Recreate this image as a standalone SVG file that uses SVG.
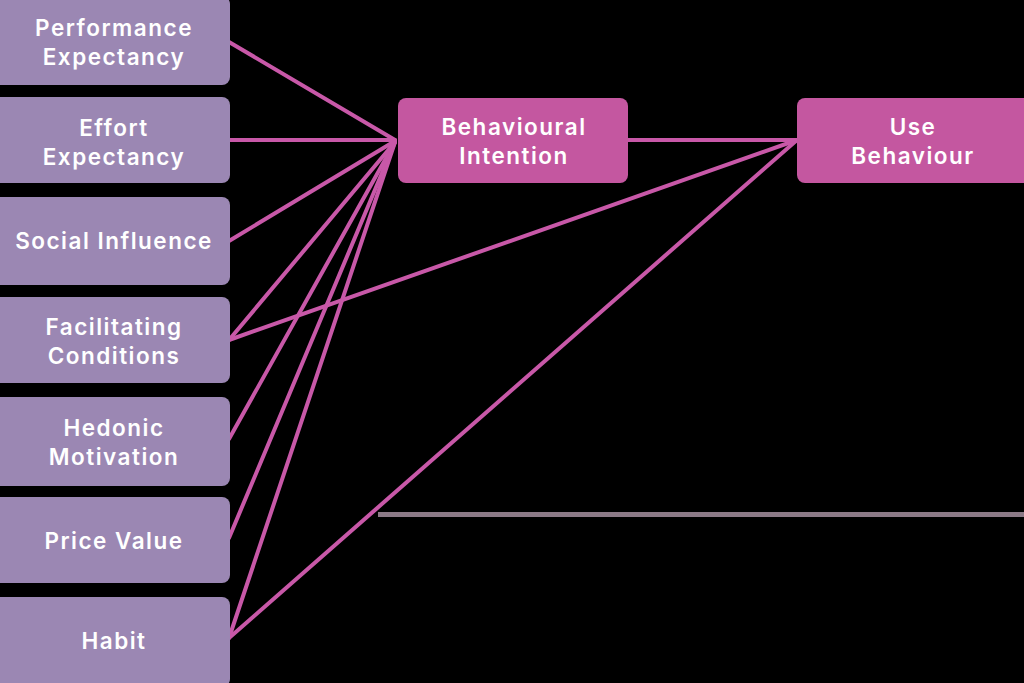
<svg xmlns="http://www.w3.org/2000/svg" width="1024" height="683" viewBox="0 0 1024 683">
<style>
.bg{fill:#000}
.lbox{fill:#9b87b3}
.mbox{fill:#c457a0}
.t{font-family:Inter,"Open Sans","DejaVu Sans",sans-serif;font-weight:600;font-size:22.5px;letter-spacing:1.5px;fill:#ffffff;text-anchor:middle}
.c{stroke:#c858a8;stroke-width:4;fill:none;stroke-linecap:round}
.g{stroke:#8c7a87;stroke-width:5;fill:none}
</style>
<rect class="bg" x="0" y="0" width="1024" height="683"/>
<line class="g" x1="378" y1="514.5" x2="1024" y2="514.5"/>
<g id="connectors">
<line class="c" x1="229" y1="42" x2="395" y2="140"/>
<line class="c" x1="229" y1="140" x2="395" y2="140"/>
<line class="c" x1="229" y1="241" x2="395" y2="141"/>
<line class="c" x1="229" y1="340" x2="395" y2="142"/>
<line class="c" x1="229" y1="340" x2="797" y2="140"/>
<line class="c" x1="229" y1="439" x2="395" y2="142"/>
<line class="c" x1="229" y1="538" x2="395" y2="142"/>
<line class="c" x1="229" y1="638" x2="395" y2="142"/>
<line class="c" x1="229" y1="638" x2="797" y2="140"/>
<line class="c" x1="628" y1="140" x2="797" y2="140"/>
</g>
<g id="performance-expectancy">
<rect class="lbox" x="-8" y="-4" width="238" height="89" rx="8"/>
<text class="t" x="114" y="36">Performance</text>
<text class="t" x="114" y="65">Expectancy</text>
</g>
<g id="effort-expectancy">
<rect class="lbox" x="-8" y="97" width="238" height="86" rx="8"/>
<text class="t" x="114" y="136">Effort</text>
<text class="t" x="114" y="165">Expectancy</text>
</g>
<g id="social-influence">
<rect class="lbox" x="-8" y="197" width="238" height="88" rx="8"/>
<text class="t" x="114" y="249">Social Influence</text>
</g>
<g id="facilitating-conditions">
<rect class="lbox" x="-8" y="297" width="238" height="86" rx="8"/>
<text class="t" x="114" y="335">Facilitating</text>
<text class="t" x="114" y="364">Conditions</text>
</g>
<g id="hedonic-motivation">
<rect class="lbox" x="-8" y="397" width="238" height="89" rx="8"/>
<text class="t" x="114" y="436">Hedonic</text>
<text class="t" x="114" y="465">Motivation</text>
</g>
<g id="price-value">
<rect class="lbox" x="-8" y="497" width="238" height="86" rx="8"/>
<text class="t" x="114" y="549">Price Value</text>
</g>
<g id="habit">
<rect class="lbox" x="-8" y="597" width="238" height="90" rx="8"/>
<text class="t" x="114" y="649">Habit</text>
</g>
<g id="behavioural-intention">
<rect class="mbox" x="398" y="98" width="230" height="85" rx="8"/>
<text class="t" x="514" y="135">Behavioural</text>
<text class="t" x="514" y="164">Intention</text>
</g>
<g id="use-behaviour">
<rect class="mbox" x="797" y="98" width="235" height="85" rx="8"/>
<text class="t" x="913" y="135">Use</text>
<text class="t" x="913" y="164">Behaviour</text>
</g>
</svg>
